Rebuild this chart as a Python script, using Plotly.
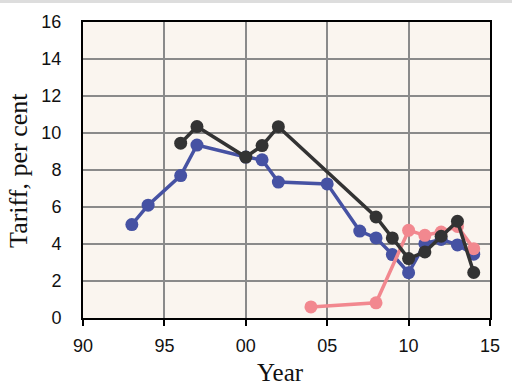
import plotly.graph_objects as go

tick_vals = [1990, 1995, 2000, 2005, 2010, 2015]
tick_text = ["90", "95", "00", "05", "10", "15"]

blue_years = [1993, 1994, 1996, 1997, 2000, 2001, 2002, 2005, 2007, 2008, 2009, 2010, 2011, 2012, 2013, 2014]
blue_vals = [5.05, 6.1, 7.7, 9.35, 8.7, 8.55, 7.35, 7.25, 4.7, 4.33, 3.43, 2.45, 4.02, 4.25, 3.95, 3.45]

pink_years = [2004, 2008, 2010, 2011, 2012, 2013, 2014]
pink_vals = [0.6, 0.82, 4.74, 4.47, 4.65, 4.95, 3.75]

black_years = [1996, 1997, 2000, 2001, 2002, 2008, 2009, 2010, 2011, 2012, 2013, 2014]
black_vals = [9.45, 10.35, 8.7, 9.32, 10.34, 5.46, 4.33, 3.21, 3.57, 4.42, 5.23, 2.46]

fig = go.Figure()
for xs, ys, col in [(blue_years, blue_vals, "#4652a3"),
                    (pink_years, pink_vals, "#f2888f"),
                    (black_years, black_vals, "#333333")]:
    fig.add_trace(go.Scatter(x=xs, y=ys, mode="lines+markers",
                             line=dict(color=col, width=3.5),
                             marker=dict(color=col, size=13),
                             showlegend=False))

serif = "Liberation Serif, Times New Roman, serif"
fig.update_layout(
    width=512, height=385,
    margin=dict(l=83, r=15, t=21, b=67),
    paper_bgcolor="white",
    plot_bgcolor="#faf5ef",
    font=dict(family="Liberation Sans, Arial", size=18, color="#111111"),
    shapes=[dict(type="rect", xref="paper", yref="paper", x0=-0.3, x1=1.1,
                 ysizemode="pixel", yanchor=1, y0=19, y1=23,
                 line=dict(width=0), fillcolor="#dddddd", layer="above")],
    annotations=[
        dict(text="Tariff, per cent", textangle=-90, xref="paper", yref="paper",
             x=-83 / 414, xanchor="left", xshift=0, y=0.5, yshift=0, showarrow=False,
             font=dict(family=serif, size=26, color="#111111")),
        dict(text="Year", xref="paper", yref="paper", x=0.5, xshift=-6,
             y=0, yanchor="top", yshift=-39, showarrow=False,
             font=dict(family=serif, size=25, color="#111111")),
    ],
)
fig.update_xaxes(range=[1990, 2015], tickvals=tick_vals, ticktext=tick_text,
                 showgrid=True, gridcolor="#8a8a8a", gridwidth=2,
                 showline=True, linecolor="black", linewidth=2, mirror=True,
                 ticks="outside", ticklen=6, tickwidth=2, tickcolor="black",
                 ticklabelstandoff=4, zeroline=False)
fig.update_yaxes(range=[0, 16], tickvals=list(range(0, 17, 2)),
                 showgrid=True, gridcolor="#8a8a8a", gridwidth=2,
                 showline=True, linecolor="black", linewidth=2, mirror=True,
                 ticks="", ticklabelstandoff=16, zeroline=False)

fig.write_html("out.html")
